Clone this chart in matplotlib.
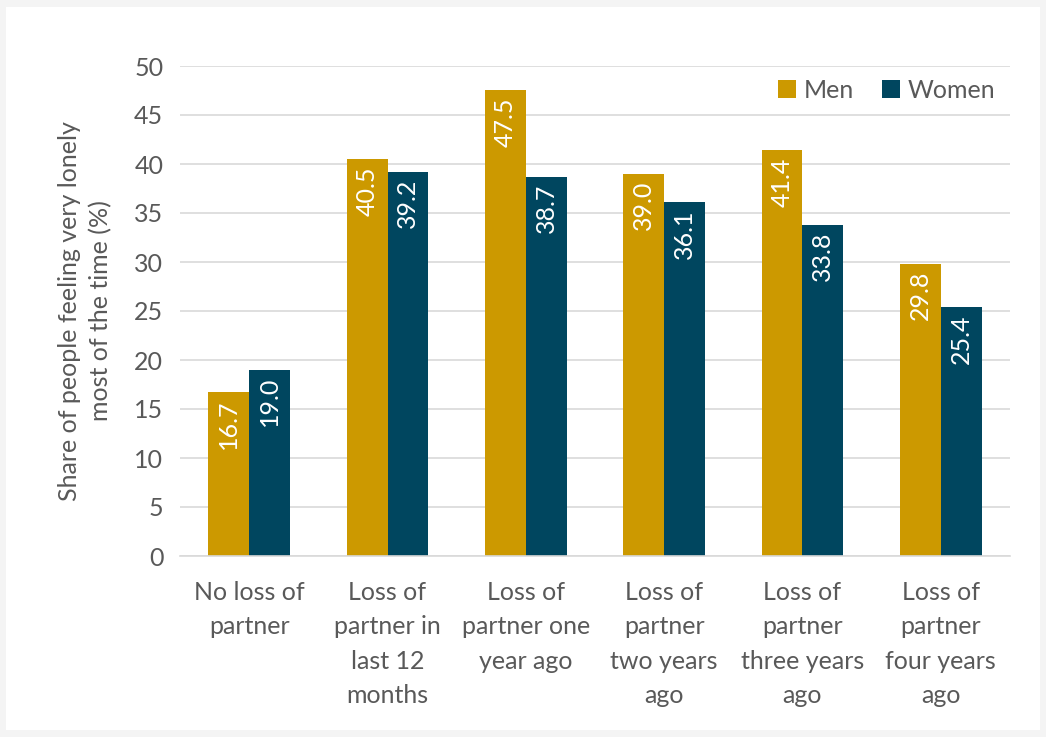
import matplotlib
matplotlib.use("Agg")
import matplotlib.pyplot as plt
import numpy as np
from matplotlib.patches import Rectangle

plt.rcParams['font.family'] = ['Lato', 'DejaVu Sans']

categories = ["No loss of\npartner", "Loss of\npartner in\nlast 12\nmonths", "Loss of\npartner one\nyear ago",
              "Loss of\npartner\ntwo years\nago", "Loss of\npartner\nthree years\nago", "Loss of\npartner\nfour years\nago"]
men = [16.7, 40.5, 47.5, 39.0, 41.4, 29.8]
women = [19.0, 39.2, 38.7, 36.1, 33.8, 25.4]
series_names = ["Men", "Women"]
yticks = [0, 5, 10, 15, 20, 25, 30, 35, 40, 45, 50]

men_color = "#CC9900"
women_color = "#00465F"
text_color = "#595959"
fs = 18

fig = plt.figure(figsize=(10.46, 7.37), dpi=100, facecolor="#F4F4F4")
fig.patches.append(Rectangle((6/1046, 7/737), 1034/1046, 723/737, transform=fig.transFigure,
                             facecolor="white", edgecolor="none", zorder=-10))
ax = fig.add_axes([180/1046, 1-556/737, 830/1046, 490/737])
ax.set_facecolor("white")
ax.set_zorder(1)

x = np.arange(len(categories))
w = 0.295
b1 = ax.bar(x - w/2, men, w, color=men_color, label=series_names[0], zorder=2)
b2 = ax.bar(x + w/2, women, w, color=women_color, label=series_names[1], zorder=2)

for bars, vals in [(b1, men), (b2, women)]:
    for r, v in zip(bars, vals):
        ax.annotate(f"{v:.1f}", (r.get_x() + r.get_width()/2, v), xytext=(0, -5),
                    textcoords="offset points", ha="center", va="top", rotation=90,
                    color="white", fontsize=fs, zorder=3)

ax.set_ylim(0, 50)
ax.set_xlim(-0.5, len(categories) - 0.5)
ax.set_yticks(yticks)
ax.set_xticks(x)
ax.set_xticklabels(categories, fontsize=fs, color=text_color, linespacing=1.6)
ax.tick_params(axis='y', labelsize=fs, colors=text_color, length=0, pad=12)
ax.tick_params(axis='x', length=0, pad=18, colors=text_color)
ax.grid(axis='y', color="#D9D9D9", linewidth=1.2, zorder=0)
ax.set_axisbelow(True)
for s in ["top", "right", "left"]:
    ax.spines[s].set_visible(False)
ax.spines["bottom"].set_color("#D9D9D9")
ax.spines["bottom"].set_linewidth(1.2)

ax.set_ylabel("Share of people feeling very lonely\nmost of the time (%)", fontsize=fs,
              color=text_color, labelpad=16, linespacing=1.4)

leg = ax.legend(loc="upper right", bbox_to_anchor=(1.0, 1.005), ncol=2, frameon=False,
                fontsize=fs, handlelength=0.7, handleheight=0.7, handletextpad=0.3,
                columnspacing=1.15, labelcolor=text_color, borderaxespad=0.2)

fig.savefig("out.png", dpi=100, facecolor=fig.get_facecolor())
